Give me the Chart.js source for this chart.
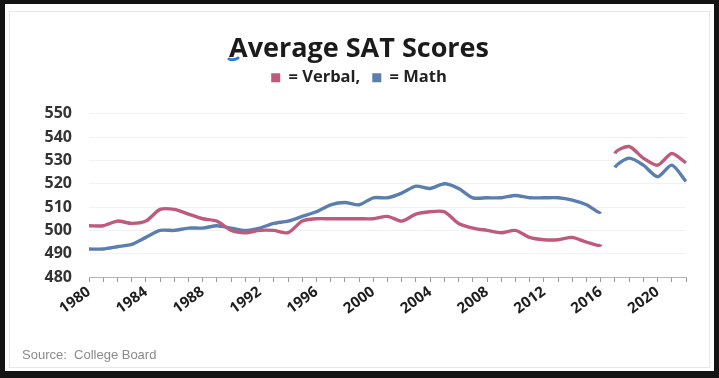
<!DOCTYPE html>
<html>
<head>
<meta charset="utf-8">
<script src="https://cdn.jsdelivr.net/npm/chart.js@4.4.1/dist/chart.umd.min.js"></script>
<style>
  html, body { margin: 0; padding: 0; background: #fff; }
  #wrap { position: relative; width: 719px; height: 378px; overflow: hidden; }
  #frame { position: absolute; left: 0; top: 0; width: 719px; height: 378px; box-sizing: border-box;
           border-style: solid; border-color: #141414; border-width: 4px 5px 7px 5px; }
  #inner { position: absolute; left: 9px; top: 11px; width: 701px; height: 357px; box-sizing: border-box;
           border: 1px solid #e8e8e8; }
  #source { position: absolute; left: 22px; top: 347px; font: 13px "Liberation Sans", Arial, sans-serif; color: #8a8a8a; }
  canvas { position: absolute; left: 0; top: 0; }
</style>
</head>
<body>
<div id="wrap">
  <div id="frame"></div>
  <div id="inner"></div>
  <canvas id="c" width="719" height="378"></canvas>
  <div id="source">Source:&nbsp; College Board</div>
</div>
<script>
// ---- data ----
const years = [];
for (let y = 1980; y <= 2022; y++) years.push(String(y));
const verbal = [502,502,504,503,504,509,509,507,505,504,
                500,499,500,500,499,504,505,505,505,505,
                505,506,504,507,508,508,503,501,500,499,
                500,497,496,496,497,495,494,
                533,536,531,528,533,529];
const math   = [492,492,493,494,497,500,500,501,501,502,
                501,500,501,503,504,506,508,511,512,511,
                514,514,516,519,518,520,518,514,514,514,
                515,514,514,514,513,511,508,
                527,531,528,523,528,521];
const yTicks = [480, 490, 500, 510, 520, 530, 540, 550];
const gapAfter = '2016';
const titleText = 'Average SAT Scores';
const seriesNames = ['Verbal,', 'Math'];

const VERBAL_COLOR = '#BF5A7C';
const MATH_COLOR = '#5A7FAE';
const gapIndex = years.indexOf(gapAfter);
const FONT = '"Open Sans", "DejaVu Sans", sans-serif';

function segColor(color) {
  return ctx => ctx.p0DataIndex === gapIndex ? 'rgba(0,0,0,0)' : color;
}

const markPlugin = {
  id: 'mark',
  afterDraw(chart) {
    const c = chart.ctx;
    c.save();
    c.strokeStyle = '#2a78e0';
    c.lineWidth = 3;
    c.lineCap = 'round';
    c.beginPath();
    c.moveTo(229, 59);
    c.quadraticCurveTo(233, 61, 238, 58);
    c.stroke();
    c.restore();
  }
};

// extra space below the legend
const legendGap = {
  id: 'legendGap',
  beforeLayout(chart) {
    const lg = chart.legend;
    if (lg && !lg._patched) {
      const fit = lg.fit;
      lg.fit = function () { fit.call(this); this.height += 18; };
      lg._patched = true;
    }
  }
};

new Chart(document.getElementById('c'), {
  type: 'line',
  data: {
    labels: years,
    datasets: [
      { label: seriesNames[0], data: verbal, borderColor: VERBAL_COLOR, backgroundColor: VERBAL_COLOR,
        borderWidth: 3.4, pointRadius: 0, tension: 0.25, segment: { borderColor: segColor(VERBAL_COLOR) } },
      { label: seriesNames[1], data: math, borderColor: MATH_COLOR, backgroundColor: MATH_COLOR,
        borderWidth: 3.4, pointRadius: 0, tension: 0.25, segment: { borderColor: segColor(MATH_COLOR) } }
    ]
  },
  options: {
    responsive: false,
    animation: false,
    layout: { padding: { left: 32, right: 33, top: 33, bottom: 0 } },
    plugins: {
      tooltip: { enabled: false },
      title: {
        display: true, text: titleText, color: '#1b1b1b',
        font: { family: FONT, size: 27, weight: 'bold' }, padding: { top: 0, bottom: -8 }
      },
      legend: {
        display: true,
        labels: {
          boxWidth: 9, boxHeight: 9, padding: 12, color: '#222',
          font: { family: FONT, size: 16.5, weight: 'bold' },
          generateLabels(chart) {
            return chart.data.datasets.map((ds, i) => ({
              text: '= ' + ds.label, fillStyle: ds.borderColor, strokeStyle: ds.borderColor,
              lineWidth: 0, hidden: false, datasetIndex: i, fontColor: '#222'
            }));
          }
        }
      }
    },
    scales: {
      x: {
        type: 'category',
        afterFit(scale) { scale.height = 101; },
        grid: { display: true, drawOnChartArea: false, drawTicks: true, tickLength: 5, color: '#9a9a9a' },
        border: { display: true, color: '#b5b5b5' },
        ticks: {
          autoSkip: false, minRotation: 36, maxRotation: 36, padding: 1, color: '#1e1e1e',
          font: { family: FONT, size: 15, weight: 'bold' },
          callback(v, i) { return i % 4 === 0 ? years[i] : ''; }
        }
      },
      y: {
        min: yTicks[0], max: yTicks[yTicks.length - 1],
        afterFit(scale) { scale.width = 57; },
        afterBuildTicks(scale) { scale.ticks = yTicks.map(v => ({ value: v })); },
        grid: { color: '#f1f1f1', drawTicks: false },
        border: { display: false },
        ticks: { padding: 17, color: '#333', font: { family: FONT, size: 16, weight: 'bold' } }
      }
    }
  },
  plugins: [legendGap, markPlugin]
});
</script>
</body>
</html>
